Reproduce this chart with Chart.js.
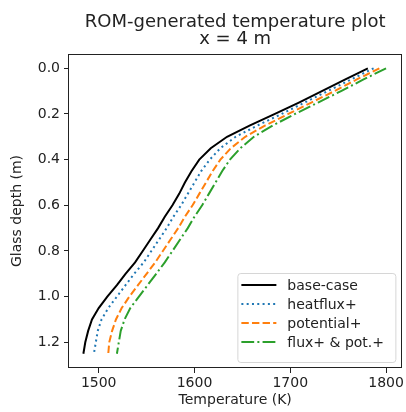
<!DOCTYPE html>
<html>
<head>
<meta charset="utf-8">
<script src="https://cdn.jsdelivr.net/npm/chart.js@4.4.1/dist/chart.umd.min.js"></script>
<style>
  html, body { margin: 0; padding: 0; background: #fff; }
</style>
</head>
<body>
<canvas id="chart" width="406" height="412"></canvas>
<script>
// glass depth (m), shared by all four profiles
const depth = [0.00, 0.05, 0.10, 0.15, 0.20, 0.25, 0.30, 0.35, 0.40, 0.45, 0.50, 0.55, 0.60,
               0.65, 0.70, 0.75, 0.80, 0.85, 0.90, 0.95, 1.00, 1.05, 1.10, 1.15, 1.20, 1.25];

// temperature (K) at each depth
const baseCase  = [1781, 1757, 1733, 1709, 1684, 1658, 1634, 1617, 1605, 1597, 1590, 1584, 1577,
                   1569, 1562, 1554, 1546, 1538, 1528, 1519, 1509, 1500, 1493, 1489, 1486, 1484];
const heatflux  = [1787, 1763, 1739, 1715, 1691, 1666, 1643, 1627, 1616, 1607, 1600, 1593, 1586,
                   1578, 1571, 1563, 1555, 1547, 1537, 1528, 1519, 1510, 1503, 1499, 1497, 1495];
const potential = [1793, 1769, 1746, 1722, 1698, 1674, 1653, 1638, 1627, 1619, 1612, 1605, 1598,
                   1590, 1583, 1575, 1567, 1559, 1550, 1541, 1532, 1524, 1518, 1514, 1511, 1510];
const fluxPot   = [1800, 1776, 1753, 1729, 1705, 1682, 1662, 1648, 1637, 1629, 1622, 1615, 1608,
                   1600, 1593, 1585, 1577, 1569, 1560, 1551, 1542, 1533, 1527, 1523, 1521, 1519];

const seriesLabels = ['base-case', 'heatflux+', 'potential+', 'flux+ & pot.+'];
const xTickValues = [1500, 1600, 1700, 1800];
const yTickValues = [0.0, 0.2, 0.4, 0.6, 0.8, 1.0, 1.2];
const titleLines = ['ROM-generated temperature plot', 'x = 4 m'];

const FONT = '"DejaVu Sans", sans-serif';
const TEXT = '#222';

function toPoints(temps) {
    return temps.map((t, i) => ({ x: t, y: depth[i] }));
}

function lineSet(label, temps, color, dash) {
    return {
        label: label,
        data: toPoints(temps),
        showLine: true,
        borderColor: color,
        backgroundColor: color,
        borderWidth: 2,
        borderDash: dash,
        pointRadius: 0,
        tension: 0,
        fill: false
    };
}

// frame + title + legend box, matplotlib style
const decorations = {
    id: 'decorations',
    afterDatasetsDraw(chart) {
        const { ctx, chartArea: a } = chart;
        ctx.save();
        ctx.strokeStyle = '#222';
        ctx.lineWidth = 1;
        ctx.strokeRect(Math.round(a.left) - 0.5, Math.round(a.top) + 0.5,
                       Math.round(a.right - a.left) + 1, Math.round(a.bottom - a.top) - 1);

        // title
        ctx.fillStyle = TEXT;
        ctx.textAlign = 'center';
        ctx.textBaseline = 'alphabetic';
        ctx.font = '18px ' + FONT;
        const cx = (a.left + a.right) / 2;
        ctx.fillText(titleLines[0], cx, 27);
        ctx.fillText(titleLines[1], cx, 44);

        // legend
        const w = 158, h = 89;
        const lx = a.right - 6 - w, ly = a.bottom - 6 - h;
        ctx.beginPath();
        ctx.roundRect(lx + 0.5, ly + 0.5, w, h, 3);
        ctx.fillStyle = 'rgba(255,255,255,0.85)';
        ctx.fill();
        ctx.strokeStyle = '#d6d6d6';
        ctx.stroke();

        ctx.font = '14px ' + FONT;
        ctx.textAlign = 'left';
        ctx.textBaseline = 'middle';
        chart.data.datasets.forEach((ds, i) => {
            const y = ly + 12 + i * 19;
            ctx.beginPath();
            ctx.setLineDash(ds.borderDash);
            ctx.strokeStyle = ds.borderColor;
            ctx.lineWidth = ds.borderWidth;
            ctx.moveTo(lx + 4, y);
            ctx.lineTo(lx + 39, y);
            ctx.stroke();
            ctx.setLineDash([]);
            ctx.fillStyle = TEXT;
            ctx.fillText(ds.label, lx + 50, y + 1);
        });
        ctx.restore();
    }
};

new Chart(document.getElementById('chart'), {
    type: 'scatter',
    data: {
        datasets: [
            lineSet(seriesLabels[0], baseCase, '#000000', []),
            lineSet(seriesLabels[1], heatflux, '#1f77b4', [2, 3.3]),
            lineSet(seriesLabels[2], potential, '#ff7f0e', [7.4, 3.2]),
            lineSet(seriesLabels[3], fluxPot, '#2ca02c', [12.8, 3.2, 2, 3.2])
        ]
    },
    options: {
        responsive: false,
        animation: false,
        layout: { padding: { top: 54, right: 3, left: 0, bottom: 0 } },
        plugins: {
            legend: { display: false },
            title: { display: false },
            tooltip: { enabled: false }
        },
        scales: {
            x: {
                type: 'linear',
                min: 1469,
                max: 1816,
                afterBuildTicks: s => { s.ticks = xTickValues.map(v => ({ value: v })); },
                afterFit: s => { s.height = 44; },
                border: { display: false },
                grid: { drawOnChartArea: false, tickLength: 5, color: '#222' },
                ticks: {
                    autoSkip: false, maxRotation: 0, padding: 2, color: TEXT,
                    font: { family: FONT, size: 14 },
                    callback: v => String(v)
                },
                title: {
                    display: true, text: 'Temperature (K)', color: TEXT,
                    font: { family: FONT, size: 14 },
                    padding: { top: 0, bottom: 3 }
                }
            },
            y: {
                type: 'linear',
                reverse: true,
                min: -0.0625,
                max: 1.3125,
                afterBuildTicks: s => { s.ticks = yTickValues.map(v => ({ value: v })); },
                afterFit: s => { s.width = 69; },
                border: { display: false },
                grid: { drawOnChartArea: false, tickLength: 5, color: '#222' },
                ticks: {
                    autoSkip: false, padding: 4, color: TEXT,
                    font: { family: FONT, size: 14 },
                    callback: v => v.toFixed(1)
                },
                title: {
                    display: true, text: 'Glass depth (m)', color: TEXT,
                    font: { family: FONT, size: 14 },
                    padding: { top: 9, bottom: 0 }
                }
            }
        }
    },
    plugins: [decorations]
});
</script>
</body>
</html>
